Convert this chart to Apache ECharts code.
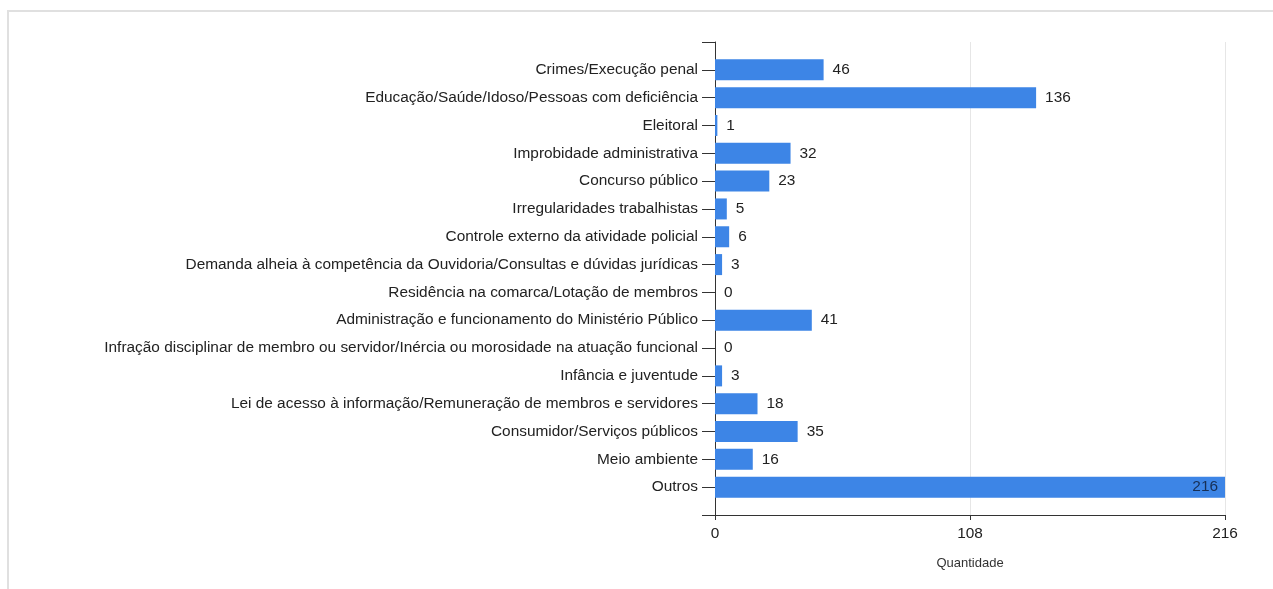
<!DOCTYPE html>
<html>
<head>
<meta charset="utf-8">
<script src="https://cdn.jsdelivr.net/npm/echarts@6/dist/echarts.min.js"></script>
<style>
  html, body { margin: 0; padding: 0; background: #fff; }
  #frame { position: absolute; left: 7px; top: 10px; width: 1266px; height: 579px; border-top: 2px solid #e0e0e0; border-left: 2px solid #e0e0e0; box-sizing: border-box; }
  #chart { position: absolute; left: 0; top: 0; width: 1273px; height: 589px; }
</style>
</head>
<body>
<div id="frame"></div>
<div id="chart"></div>
<script>
const categories = [
  'Crimes/Execução penal',
  'Educação/Saúde/Idoso/Pessoas com deficiência',
  'Eleitoral',
  'Improbidade administrativa',
  'Concurso público',
  'Irregularidades trabalhistas',
  'Controle externo da atividade policial',
  'Demanda alheia à competência da Ouvidoria/Consultas e dúvidas jurídicas',
  'Residência na comarca/Lotação de membros',
  'Administração e funcionamento do Ministério Público',
  'Infração disciplinar de membro ou servidor/Inércia ou morosidade na atuação funcional',
  'Infância e juventude',
  'Lei de acesso à informação/Remuneração de membros e servidores',
  'Consumidor/Serviços públicos',
  'Meio ambiente',
  'Outros'
];
const values = [46, 136, 1, 32, 23, 5, 6, 3, 0, 41, 0, 3, 18, 35, 16, 216];
const xTicks = [0, 108, 216];
const axisName = 'Quantidade';

// padded category list (empty slots at both ends, as in the reference layout)
const yCats = [''].concat(categories, ['']);
const maxVal = Math.max.apply(null, values);
const barData = [null].concat(values.map(function (v) {
  const inside = v === maxVal;
  return {
    value: v,
    label: {
      position: inside ? 'insideRight' : 'right',
      color: inside ? '#172f55' : '#222',
      distance: inside ? 7 : 9
    }
  };
}), [null]);

const chart = echarts.init(document.getElementById('chart'));
chart.setOption({
  animation: false,
  textStyle: { fontFamily: 'Liberation Sans, Arial, sans-serif' },
  grid: { left: 715, right: 48, top: 42, bottom: 74, containLabel: false },
  xAxis: {
    type: 'value',
    min: xTicks[0],
    max: xTicks[xTicks.length - 1],
    interval: xTicks[1] - xTicks[0],
    name: axisName,
    nameLocation: 'middle',
    nameGap: 42,
    nameTextStyle: { fontSize: 13, color: '#333', fontFamily: 'Liberation Sans, Arial, sans-serif' },
    axisLine: { show: true, lineStyle: { color: '#333', width: 1 } },
    axisTick: { show: true, length: 5, lineStyle: { color: '#333' } },
    axisLabel: { fontSize: 15.4, color: '#222', margin: 11 },
    splitLine: { show: true, lineStyle: { color: '#e6e6e6', width: 1 } }
  },
  yAxis: {
    type: 'category',
    inverse: true,
    boundaryGap: false,
    data: yCats,
    axisLine: { show: true, lineStyle: { color: '#333', width: 1 } },
    axisTick: { show: true, length: 13, interval: 0, lineStyle: { color: '#333' } },
    axisLabel: { fontSize: 15.4, color: '#222', margin: 17, interval: 0 },
    splitLine: { show: false }
  },
  series: [{
    type: 'bar',
    data: barData,
    barWidth: 21,
    itemStyle: { color: '#3d85e6' },
    label: { show: true, fontSize: 15.4 }
  }]
});
</script>
</body>
</html>
